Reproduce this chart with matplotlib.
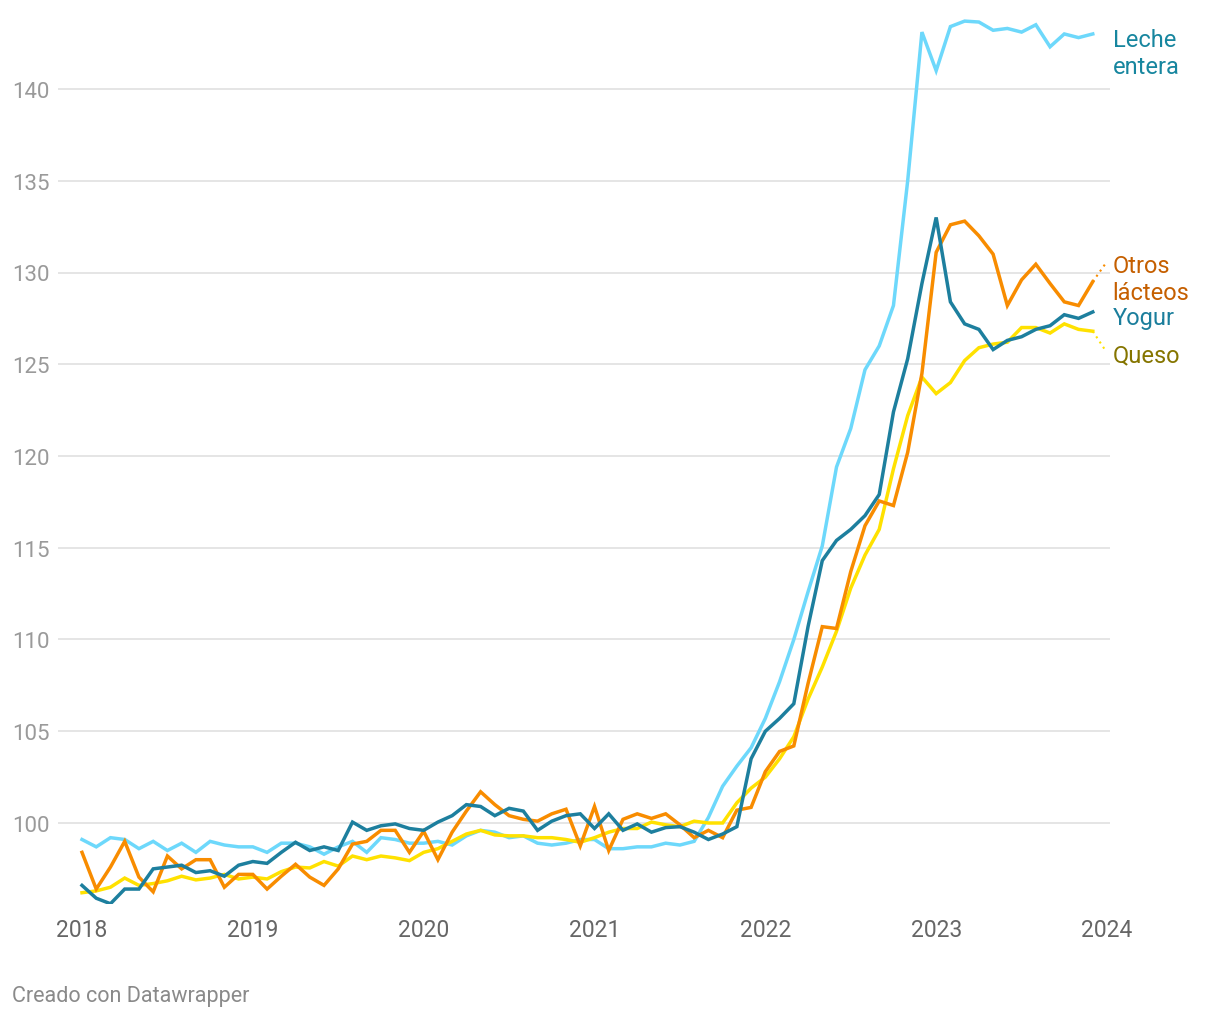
import matplotlib
matplotlib.use("Agg")
import matplotlib.pyplot as plt

plt.rcParams['font.family'] = ['Roboto', 'DejaVu Sans']

# monthly index values, Jan 2018 .. Dec 2023
leche = [99.1, 98.7, 99.2, 99.1, 98.6, 99.0, 98.5, 98.9, 98.4, 99.0, 98.8, 98.7,
         98.7, 98.4, 98.9, 98.9, 98.7, 98.3, 98.7, 99.0, 98.4, 99.2, 99.1, 98.9,
         98.9, 99.0, 98.8, 99.3, 99.6, 99.5, 99.2, 99.3, 98.9, 98.8, 98.9, 99.1,
         99.1, 98.6, 98.6, 98.7, 98.7, 98.9, 98.8, 99.0, 100.3, 102.0, 103.1, 104.1,
         105.7, 107.7, 110.0, 112.6, 115.1, 119.4, 121.5, 124.7, 126.0, 128.2, 135.0, 143.1,
         141.0, 143.4, 143.7, 143.65, 143.2, 143.3, 143.1, 143.5, 142.3, 143.0, 142.8, 143.0]
yogur = [96.6, 95.9, 95.6, 96.4, 96.4, 97.5, 97.6, 97.7, 97.3, 97.4, 97.1, 97.7,
         97.9, 97.8, 98.4, 98.95, 98.5, 98.7, 98.5, 100.05, 99.6, 99.85, 99.95, 99.7,
         99.6, 100.05, 100.4, 101.0, 100.9, 100.4, 100.8, 100.65, 99.6, 100.1, 100.4, 100.5,
         99.7, 100.5, 99.6, 99.95, 99.5, 99.75, 99.8, 99.5, 99.1, 99.4, 99.8, 103.5,
         105.0, 105.7, 106.5, 110.7, 114.3, 115.4, 116.0, 116.75, 117.9, 122.4, 125.3, 129.4,
         133.0, 128.4, 127.2, 126.9, 125.8, 126.3, 126.5, 126.9, 127.1, 127.7, 127.5, 127.85]
otros = [98.4, 96.4, 97.6, 99.0, 97.05, 96.25, 98.2, 97.5, 98.0, 98.0, 96.5, 97.2,
         97.2, 96.4, 97.1, 97.75, 97.05, 96.6, 97.5, 98.85, 99.0, 99.6, 99.6, 98.4,
         99.55, 98.0, 99.5, 100.65, 101.7, 101.0, 100.4, 100.2, 100.1, 100.5, 100.75, 98.75,
         100.9, 98.5, 100.2, 100.5, 100.25, 100.5, 99.9, 99.2, 99.6, 99.2, 100.7, 100.85,
         102.8, 103.9, 104.2, 107.6, 110.7, 110.6, 113.7, 116.2, 117.55, 117.3, 120.2, 124.5,
         131.1, 132.6, 132.8, 132.0, 131.0, 128.2, 129.6, 130.45, 129.4, 128.4, 128.2, 129.5]
queso = [96.2, 96.3, 96.5, 97.0, 96.6, 96.7, 96.85, 97.1, 96.9, 97.0, 97.2, 96.95,
         97.05, 96.95, 97.35, 97.6, 97.55, 97.9, 97.65, 98.2, 98.0, 98.2, 98.1, 97.95,
         98.4, 98.6, 99.0, 99.4, 99.6, 99.35, 99.3, 99.3, 99.2, 99.2, 99.1, 98.95,
         99.2, 99.5, 99.7, 99.7, 100.05, 99.9, 99.8, 100.1, 100.0, 100.0, 101.1, 101.9,
         102.5, 103.5, 104.7, 106.75, 108.5, 110.45, 112.8, 114.6, 116.0, 119.3, 122.2, 124.3,
         123.4, 124.0, 125.2, 125.9, 126.1, 126.2, 127.0, 127.0, 126.7, 127.2, 126.9, 126.8]
months = list(range(len(leche)))
years = [2018, 2019, 2020, 2021, 2022, 2023, 2024]
yticks = [100, 105, 110, 115, 120, 125, 130, 135, 140]

fig = plt.figure(figsize=(12.2, 10.2), dpi=100)
ax = fig.add_axes([58/1220, 1 - 905/1020, 1052/1220, 890/1020])

ax.plot(months, leche, color="#6dd8fb", lw=2.5, solid_joinstyle="miter", zorder=3)
ax.plot(months, queso, color="#ffe100", lw=2.5, solid_joinstyle="miter", zorder=3)
ax.plot(months, otros, color="#f88c00", lw=2.5, solid_joinstyle="miter", zorder=4)
ax.plot(months, yogur, color="#1d7f9e", lw=2.5, solid_joinstyle="miter", zorder=5)

# dotted connectors to labels
ax.plot([months[-1], 72.0], [otros[-1], 130.6], color="#f88c00", lw=1.5, ls=(0, (1, 2)))
ax.plot([months[-1], 71.85], [queso[-1], 125.8], color="#ffe100", lw=1.5, ls=(0, (1, 2)))

ax.set_xlim(-24/14.236, 72 + 3/14.236)
ax.set_ylim(100 + (824 - 905)/18.35, 100 + (824 - 15)/18.35)
ax.set_xticks([12*i for i in range(len(years))])
ax.set_xticklabels([str(y) for y in years])
ax.set_yticks(yticks)
ax.tick_params(axis="x", length=0, pad=10, labelsize=16.5, labelcolor="#666666")
ax.tick_params(axis="y", length=0, pad=6, labelsize=16, labelcolor="#9a9a9a")
ax.grid(axis="y", color="#e3e3e3", lw=1.3)
ax.set_axisbelow(True)
for s in ax.spines.values():
    s.set_visible(False)

kw = dict(fontsize=17, va="center", ha="left", linespacing=1.2, clip_on=False)
ax.text(72.4, 141.96, "Leche\nentera", color="#17869f", **kw)
ax.text(72.4, 129.65, "Otros\nlácteos", color="#c55f00", **kw)
ax.text(72.4, 127.57, "Yogur", color="#1b7e9c", **kw)
ax.text(72.4, 125.5, "Queso", color="#857500", **kw)

fig.text(12/1220, 1 - 997/1020, "Creado con Datawrapper", fontsize=15.5,
         color="#8a8a8a", va="center", ha="left")

fig.savefig("out.png", dpi=100)
